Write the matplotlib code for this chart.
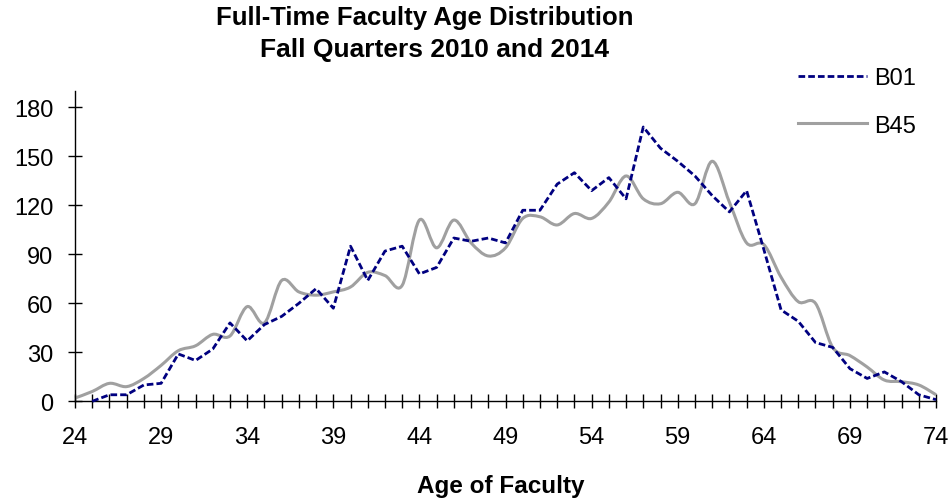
import numpy as np
import matplotlib
matplotlib.use("Agg")
import matplotlib.pyplot as plt
from matplotlib.path import Path
from matplotlib.patches import PathPatch
from matplotlib.lines import Line2D

plt.rcParams["font.family"] = ["Liberation Sans", "DejaVu Sans"]

# data
ages_b01 = list(range(25, 75))
b01 = [0, 4, 4, 10, 11, 29, 25, 32, 48, 37,
       47, 52, 60, 69, 57, 95, 74, 92, 95, 78,
       82, 100, 98, 100, 97, 117, 117, 133, 140, 129,
       137, 124, 168, 155, 147, 138, 126, 116, 129, 93,
       56, 49, 36, 33, 20, 14, 18, 12, 4, 1]

ages_b45 = list(range(24, 75))
b45 = [2, 6, 11, 9, 14, 22, 31, 34, 41, 40,
       58, 48, 74, 67, 65, 67, 70, 79, 77, 71,
       111, 94, 111, 97, 89, 94, 112, 113, 108, 115,
       112, 122, 138, 124, 121, 128, 121, 147, 122, 97,
       96, 76, 61, 60, 33, 28, 21, 13, 12, 10, 4]

x_ticks = list(range(24, 75, 5))
y_ticks = list(range(0, 181, 30))


def smooth_path(xs, ys):
    # Excel-style smoothed line: Catmull-Rom segments as cubic Beziers
    pts = np.column_stack([xs, ys]).astype(float)
    verts = [pts[0]]
    codes = [Path.MOVETO]
    n = len(pts)
    for i in range(n - 1):
        p0 = pts[i - 1] if i > 0 else pts[i]
        p1 = pts[i]
        p2 = pts[i + 1]
        p3 = pts[i + 2] if i + 2 < n else pts[i + 1]
        verts += [p1 + (p2 - p0) / 6, p2 - (p3 - p1) / 6, p2]
        codes += [Path.CURVE4] * 3
    return Path(verts, codes)


fig = plt.figure(figsize=(9.53, 5.02), dpi=100)
ax = fig.add_axes([0.0787, 0.1986, 0.9035, 0.618])

gray = "#a0a0a0"
navy = "#000080"

patch = PathPatch(smooth_path(ages_b45, b45), facecolor="none", edgecolor=gray,
                  linewidth=2.2, clip_on=False, zorder=2)
ax.add_patch(patch)
ax.plot(ages_b01, b01, color=navy, linewidth=2.0, linestyle=(0, (2.4, 1.1)),
        clip_on=False, zorder=3)

ax.set_xlim(24, 74)
ax.set_ylim(0, 190)
ax.set_xticks(x_ticks)
ax.set_xticks(range(24, 75), minor=True)
ax.set_yticks(y_ticks)

for s in ["top", "right"]:
    ax.spines[s].set_visible(False)
for s in ["left", "bottom"]:
    ax.spines[s].set_linewidth(1.0)
    ax.spines[s].set_color("black")

ax.tick_params(axis="both", which="both", direction="inout", length=10,
               width=1.0, color="black")
ax.tick_params(axis="y", which="major", labelsize=17, pad=10.5)
ax.tick_params(axis="x", which="major", labelsize=17, pad=12.5)

fig.text(0.4454, 0.964, "Full-Time Faculty Age Distribution", ha="center",
         va="center", fontsize=18.5, fontweight="bold")
fig.text(0.4559, 0.900, "Fall Quarters 2010 and 2014", ha="center",
         va="center", fontsize=19, fontweight="bold")
fig.text(0.5257, 0.030, "Age of Faculty", ha="center", va="center",
         fontsize=17.5, fontweight="bold")

handles = [Line2D([], [], color=navy, linewidth=2.0, linestyle=(0, (2.4, 1.1))),
           Line2D([], [], color=gray, linewidth=2.2)]
fig.legend(handles, ["B01", "B45"], loc="upper left",
           bbox_to_anchor=(0.8374, 0.865), frameon=False, fontsize=17,
           handlelength=2.9, handletextpad=0.34, labelspacing=1.1,
           borderpad=0, borderaxespad=0)

fig.savefig("out.png", dpi=100)
